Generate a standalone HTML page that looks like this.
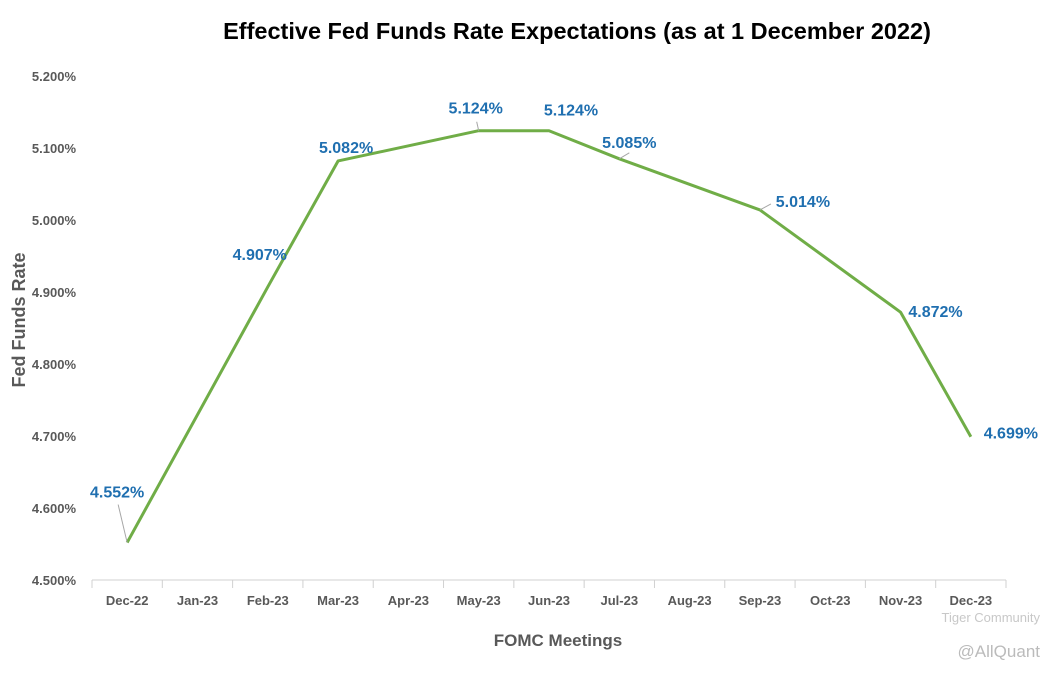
<!DOCTYPE html>
<html><head><meta charset="utf-8"><style>
body{margin:0;background:#fff;}
svg{display:block;font-family:"Liberation Sans",sans-serif;}
</style></head><body>
<svg id="chart" width="1060" height="676" viewBox="0 0 1060 676">
<text x="577" y="39" text-anchor="middle" font-size="23.5" font-weight="bold" fill="#000">Effective Fed Funds Rate Expectations (as at 1 December 2022)</text>
<text transform="translate(25,320) rotate(-90)" text-anchor="middle" font-size="18" font-weight="bold" fill="#595959">Fed Funds Rate</text>
<text x="558" y="646" text-anchor="middle" font-size="17" font-weight="bold" fill="#595959">FOMC Meetings</text>
<text x="1040" y="622" text-anchor="end" font-size="13" fill="#c8c8c8">Tiger Community</text>
<text x="1040" y="657" text-anchor="end" font-size="17" fill="#bbb">@AllQuant</text>
<g id="axes"></g><g id="marks"></g>
</svg>
<script>
const categories=["Dec-22","Jan-23","Feb-23","Mar-23","Apr-23","May-23","Jun-23","Jul-23","Aug-23","Sep-23","Oct-23","Nov-23","Dec-23"];
const rates=[4.552,null,4.907,5.082,null,5.124,5.124,5.085,null,5.014,null,4.872,4.699];
const yTicks=[4.5,4.6,4.7,4.8,4.9,5.0,5.1,5.2];
const NS="http://www.w3.org/2000/svg";
const x0=92,x1=1006,yMin=4.5,yMax=5.2,yB=580,yT=76;
const step=(x1-x0)/categories.length;
const xs=i=>x0+step*(i+0.5);
const ys=v=>yB-(v-yMin)/(yMax-yMin)*(yB-yT);
function mk(t,a,p){const e=document.createElementNS(NS,t);for(const k in a)e.setAttribute(k,a[k]);p.appendChild(e);return e;}
const ax=document.getElementById('axes'),mg=document.getElementById('marks');
yTicks.forEach(v=>{const t=mk('text',{x:76,y:ys(v)+5,'text-anchor':'end','font-size':13,'font-weight':'bold',fill:'#595959'},ax);


t.textContent=v.toFixed(3)+'%';});
const base=mk('line',{x1:x0,x2:x1,y1:yB,y2:yB,stroke:'#d0d0d0','stroke-width':1},ax);


for(let i=0;i<=categories.length;i++){const l=mk('line',{x1:x0+step*i,x2:x0+step*i,y1:yB,y2:yB+8,stroke:'#d0d0d0'},ax);

}
categories.forEach((c,i)=>{const t=mk('text',{x:xs(i),y:605,'text-anchor':'middle','font-size':13,'font-weight':'bold',fill:'#595959'},ax);


t.textContent=c;});
const pts=[];rates.forEach((v,i)=>{if(v!=null)pts.push([xs(i),ys(v),v,i]);});
const path=mk('polyline',{points:pts.map(p=>p[0]+','+p[1]).join(' '),fill:'none',stroke:'#70AD47','stroke-width':3,'stroke-linejoin':'round'},mg);


const offs={0:[-10,-50],2:[-8,-32],3:[8,-13],5:[-3,-22],6:[22,-20],7:[10,-16],9:[43,-8],11:[35,0],12:[40,-3]};
const leaders={0:[-9,-38],7:[10,-6],9:[11,-6],5:[-2,-9]};
pts.forEach(p=>{const o=offs[p[3]]||[0,-15];
if(leaders[p[3]]){const L=leaders[p[3]];const ll=mk('line',{x1:p[0],y1:p[1],x2:p[0]+L[0],y2:p[1]+L[1],stroke:'#a6a6a6','stroke-width':1},mg);

}
const t=mk('text',{x:p[0]+o[0],y:p[1]+o[1]+5,'text-anchor':'middle','font-size':16,'font-weight':'700',fill:'#1F6FB0'},mg);


t.textContent=p[2].toFixed(3)+'%';});
</script>
</body></html>
